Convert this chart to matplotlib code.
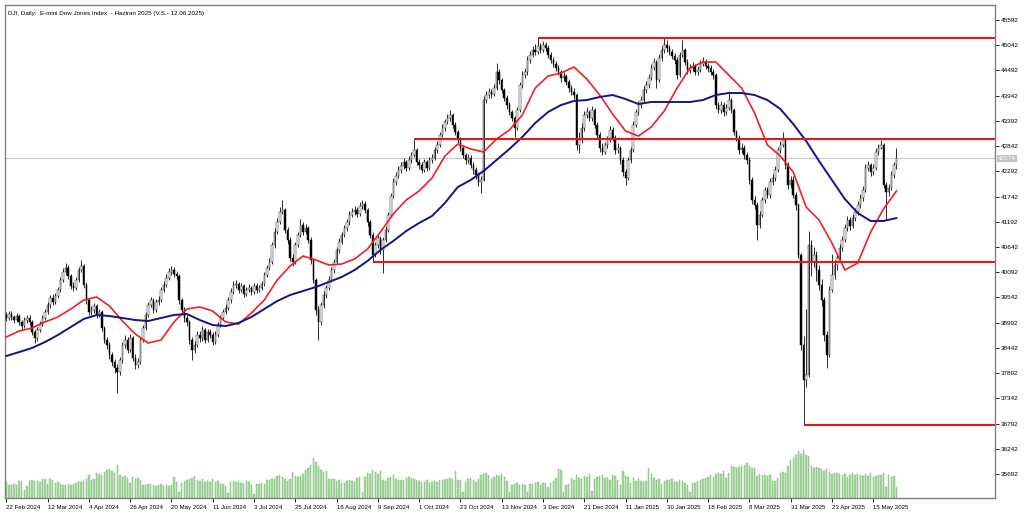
import numpy as np
import matplotlib
matplotlib.use("Agg")
import matplotlib.pyplot as plt
import matplotlib.transforms as mtransforms

plt.rcParams['font.family'] = ['Liberation Sans', 'DejaVu Sans']

# ---------------------------------------------------------------
# data (daily bars, price units)
# ---------------------------------------------------------------
title = "DJI, Daily:  E-mini Dow Jones Index  - Haziran 2025 (V.S.- 12.06.2025)"

date_labels = ["22 Feb 2024", "12 Mar 2024", "4 Apr 2024", "26 Apr 2024", "20 May 2024",
               "11 Jun 2024", "3 Jul 2024", "25 Jul 2024", "16 Aug 2024", "9 Sep 2024",
               "1 Oct 2024", "23 Oct 2024", "13 Nov 2024", "3 Dec 2024", "21 Dec 2024",
               "11 Jan 2025", "30 Jan 2025", "18 Feb 2025", "8 Mar 2025", "31 Mar 2025",
               "23 Apr 2025", "15 May 2025"]

first_open = 39150

closes = [
    39094, 39181, 39115, 39050, 39137, 39006, 38919, 39050, 39094, 39006,
    38788, 38658, 38832, 38963, 39094, 39225, 39377, 39530, 39443, 39573,
    39704, 39922, 40097, 40184, 40010, 39791, 39748, 39922, 40140, 40228,
    39813, 39486, 39225, 39268, 39355, 39181, 39225, 38876, 38614, 38505,
    38287, 38134, 38003, 37916, 38178, 38505, 38614, 38396, 38658, 38221,
    38069, 38134, 38614, 38876, 39159, 39377, 39486, 39268, 39443, 39486,
    39704, 39813, 39966, 40097, 40140, 40053, 40010, 39486, 39268, 39094,
    39006, 38614, 38396, 38505, 38723, 38658, 38832, 38614, 38788, 38723,
    38570, 38723, 38941, 39094, 39225, 39312, 39486, 39661, 39813, 39835,
    39704, 39791, 39617, 39704, 39748, 39661, 39791, 39704, 39748, 39835,
    40031, 40184, 40315, 40686, 40969, 41187, 41405, 41449, 41013, 40795,
    40402, 40315, 40686, 40904, 41122, 40969, 41056, 40795, 40358, 39922,
    39268, 39006, 39377, 39595, 39748, 39922, 40140, 40315, 40576, 40751,
    40904, 41056, 41187, 41340, 41405, 41449, 41362, 41536, 41580, 41449,
    41187, 40904, 40467, 40686, 40838, 40576, 40795, 41013, 41340, 41754,
    42059, 42190, 42321, 42408, 42495, 42365, 42539, 42648, 42757, 42495,
    42430, 42321, 42495, 42365, 42539, 42583, 42757, 42866, 43084, 43237,
    43368, 43455, 43520, 43302, 43150, 42975, 42801, 42648, 42539, 42583,
    42430, 42321, 42212, 42059, 42103, 43847, 43956, 44022, 43978, 44109,
    44458, 44284, 44065, 43891, 43738, 43586, 43455, 43237, 43629, 44174,
    44393, 44458, 44720, 44829, 44938, 44894, 45025, 44938, 45047, 44981,
    44829, 44720, 44632, 44545, 44458, 44327, 44371, 44240, 44109, 44022,
    43956, 42866, 42975, 43237, 43520, 43586, 43455, 43629, 43302, 43084,
    42801, 42713, 42866, 42975, 43193, 43019, 42757, 42801, 42539, 42277,
    42147, 42539, 42757, 43302, 43586, 43738, 43847, 44065, 44174, 44327,
    44545, 44676, 44284, 44763, 44938, 45047, 44981, 44894, 44807, 44720,
    44393, 44829, 44938, 44676, 44502, 44545, 44589, 44458, 44502, 44632,
    44676, 44589, 44545, 44458, 44393, 43738, 43629, 43738, 43586, 43673,
    43847, 43629, 43150, 43019, 42757, 42801, 42648, 42539, 42103, 41667,
    41558, 41122, 41340, 41667, 41885, 41776, 42059, 42147, 42321, 42757,
    42866, 42975, 42430, 41994, 42103, 41776, 41558, 40467, 38505, 37742,
    37851, 40686, 40315, 40467, 40140, 39813, 39486, 38723, 38287, 39704,
    40031, 40249, 40402, 40620, 40795, 41056, 41231, 41100, 41274, 41405,
    41558, 41710, 41885, 42365, 42430, 42277, 42365, 42713, 42801, 42866,
    41994, 41841, 41928, 42212, 42430, 42574]

highs = [
    39230, 39250, 39240, 39170, 39200, 39180, 39060, 39110, 39160, 39150,
    39060, 38840, 38900, 39030, 39150, 39290, 39440, 39600, 39610, 39640,
    39780, 39990, 40180, 40300, 40250, 40060, 39880, 39990, 40210, 40360,
    40280, 39870, 39540, 39360, 39430, 39400, 39300, 39270, 38920, 38680,
    38560, 38360, 38200, 38100, 38250, 38580, 38720, 38680, 38740, 38700,
    38300, 38230, 38680, 38950, 39230, 39450, 39560, 39530, 39510, 39580,
    39780, 39890, 40050, 40180, 40230, 40200, 40120, 40060, 39540, 39330,
    39150, 39050, 38680, 38600, 38800, 38800, 38910, 38880, 38860, 38850,
    38790, 38800, 39010, 39170, 39300, 39400, 39560, 39740, 39890, 39920,
    39880, 39860, 39840, 39780, 39830, 39800, 39860, 39850, 39820, 39900,
    40100, 40260, 40400, 40760, 41050, 41280, 41520, 41670, 41500, 41080,
    40860, 40480, 40760, 40980, 41250, 41180, 41140, 41100, 40850, 40400,
    39960, 39350, 39450, 39680, 39820, 40000, 40210, 40390, 40640, 40830,
    40980, 41130, 41260, 41420, 41490, 41540, 41520, 41620, 41670, 41640,
    41500, 41240, 40960, 40760, 40910, 40880, 40860, 41090, 41410, 41830,
    42140, 42280, 42400, 42490, 42580, 42540, 42620, 42720, 43000, 42800,
    42560, 42500, 42560, 42540, 42610, 42660, 42830, 42950, 43150, 43320,
    43440, 43540, 43630, 43570, 43360, 43200, 43040, 42860, 42700, 42680,
    42640, 42500, 42380, 42280, 42190, 43930, 44040, 44110, 44090, 44200,
    44655, 44520, 44330, 44120, 43950, 43800, 43640, 43500, 43700, 44250,
    44470, 44540, 44800, 44920, 45030, 45060, 45190, 45100, 45130, 45120,
    45040, 44890, 44790, 44700, 44610, 44500, 44450, 44420, 44300, 44180,
    44100, 44010, 43150, 43350, 43600, 43700, 43640, 43710, 43680, 43360,
    43140, 42900, 42940, 43060, 43290, 43250, 43080, 42900, 42850, 42600,
    42350, 42600, 42830, 43380, 43660, 43820, 43930, 44150, 44260, 44420,
    44640, 44760, 44720, 44840, 45020, 45199, 45156, 45050, 44960, 44870,
    44780, 44900, 45156, 44990, 44740, 44640, 44680, 44640, 44590, 44720,
    44780, 44740, 44660, 44620, 44520, 44440, 43800, 43820, 43800, 43760,
    44050, 43900, 43680, 43200, 43080, 42900, 42860, 42720, 42600, 42160,
    41760, 41620, 41420, 41740, 41960, 41950, 42140, 42240, 42400, 42830,
    42960, 43150, 43020, 42500, 42200, 42180, 41840, 41600, 40520, 38700,
    39300, 41000, 40800, 40650, 40550, 40250, 39950, 39550, 38800, 39800,
    40500, 40350, 40480, 40700, 40880, 41140, 41320, 41300, 41360, 41490,
    41640, 41790, 41970, 42450, 42520, 42480, 42450, 42800, 42890, 42975,
    42900, 42060, 42020, 42300, 42500, 42801]

lows = [
    39020, 39040, 39060, 38980, 39000, 38950, 38830, 38880, 38990, 38940,
    38720, 38550, 38600, 38790, 38920, 39040, 39180, 39320, 39380, 39400,
    39520, 39660, 39880, 40030, 39950, 39730, 39680, 39700, 39880, 40100,
    39750, 39400, 39150, 39160, 39210, 39100, 39120, 38800, 38540, 38420,
    38200, 38050, 37900, 37460, 37850, 38120, 38450, 38330, 38350, 38150,
    37980, 38000, 38100, 38560, 38830, 39110, 39330, 39200, 39220, 39380,
    39440, 39650, 39760, 39930, 40030, 39980, 39920, 39400, 39190, 39010,
    38920, 38530, 38180, 38320, 38460, 38580, 38600, 38540, 38560, 38650,
    38500, 38520, 38680, 38890, 39040, 39180, 39270, 39430, 39620, 39740,
    39640, 39650, 39550, 39570, 39650, 39590, 39620, 39640, 39660, 39700,
    39790, 39980, 40130, 40280, 40620, 40920, 41140, 41360, 40950, 40700,
    40330, 40230, 40270, 40640, 40850, 40900, 40920, 40720, 40280, 39850,
    39150, 38614, 38950, 39320, 39540, 39700, 39880, 40080, 40270, 40520,
    40700, 40850, 41000, 41130, 41290, 41340, 41290, 41320, 41480, 41380,
    41110, 40830, 40315, 40420, 40620, 40500, 40080, 40750, 40970, 41300,
    41700, 42000, 42140, 42260, 42350, 42300, 42320, 42480, 42600, 42420,
    42350, 42250, 42270, 42290, 42320, 42480, 42530, 42700, 42820, 43030,
    43180, 43320, 43400, 43230, 43080, 42900, 42730, 42580, 42450, 42480,
    42360, 42240, 42130, 41980, 41820, 42080, 43780, 43900, 43900, 43930,
    44060, 44200, 43990, 43820, 43660, 43510, 43380, 43040, 43200, 43580,
    44120, 44330, 44400, 44660, 44780, 44830, 44850, 44880, 44890, 44910,
    44760, 44650, 44560, 44470, 44390, 44250, 44270, 44170, 44030, 43950,
    43880, 42750, 42700, 42920, 43180, 43450, 43380, 43400, 43230, 43000,
    42720, 42640, 42660, 42800, 42930, 42950, 42680, 42700, 42460, 42200,
    41994, 42100, 42480, 42720, 43250, 43520, 43680, 43800, 44000, 44120,
    44280, 44500, 44110, 44240, 44700, 44880, 44900, 44820, 44740, 44640,
    44300, 44350, 44780, 44600, 44420, 44440, 44480, 44390, 44400, 44450,
    44580, 44520, 44460, 44390, 44300, 43650, 43560, 43560, 43500, 43520,
    43620, 43560, 43080, 42950, 42680, 42700, 42570, 42460, 42020, 41580,
    41470, 40795, 41050, 41290, 41600, 41700, 41720, 42000, 42080, 42280,
    42700, 42820, 42350, 41900, 41920, 41700, 41450, 40400, 38400, 36760,
    37600, 37800, 40000, 40200, 39900, 39700, 39350, 38600, 38000, 38250,
    39650, 39950, 40150, 40350, 40560, 40750, 41000, 41020, 41050, 41200,
    41350, 41500, 41650, 41850, 42300, 42200, 42220, 42330, 42650, 42780,
    41920, 41231, 41760, 41880, 42150, 42350]

volumes = [
    165, 135, 135, 140, 135, 170, 170, 80, 120, 175,
    180, 175, 170, 165, 190, 195, 140, 190, 180, 150,
    165, 140, 135, 130, 140, 135, 145, 150, 170, 165,
    175, 195, 230, 185, 195, 250, 240, 230, 260, 280,
    290, 270, 250, 330, 230, 210, 220, 200, 150, 210,
    190, 200, 180, 130, 135, 140, 140, 130, 125, 135,
    140, 125, 130, 120, 130, 210, 160, 60, 155, 170,
    180, 190, 205, 220, 180, 175, 190, 160, 175, 160,
    190, 165, 175, 140, 140, 120, 50, 165, 170, 165,
    160, 150, 155, 170, 160, 130, 40, 145, 145, 150,
    140, 180, 180, 190, 195, 220, 230, 210, 190, 175,
    195, 260, 225, 210, 220, 240, 280, 300, 330, 400,
    360, 320, 280, 260, 270, 195, 190, 190, 175, 180,
    150, 155, 175, 180, 170, 160, 200, 210, 60, 210,
    250, 240, 280, 260, 245, 270, 180, 170, 200, 210,
    230, 190, 180, 180, 185, 200, 215, 200, 195, 180,
    175, 165, 160, 180, 150, 160, 170, 165, 180, 185,
    190, 190, 200, 195, 270, 185, 180, 60, 160, 190,
    200, 185, 165, 190, 230, 245, 250, 230, 195, 210,
    230, 220, 240, 215, 170, 60, 130, 140, 150, 130,
    140, 130, 60, 140, 145, 150, 160, 130, 155, 150,
    110, 155, 175, 200, 290, 280, 60, 130, 145, 200,
    180, 230, 200, 190, 220, 215, 240, 70, 190, 210,
    220, 230, 200, 210, 180, 230, 220, 180, 130, 270,
    220, 210, 150, 200, 170, 190, 175, 160, 170, 300,
    240, 200, 180, 190, 140, 175, 180, 185, 190, 160,
    165, 180, 170, 150, 130, 60, 150, 150, 170, 180,
    190, 200, 210, 230, 215, 240, 250, 240, 270, 200,
    250, 320, 310, 300, 310, 320, 330, 350, 320, 300,
    300, 220, 240, 230, 230, 220, 230, 170, 170, 200,
    250, 260, 250, 320, 380, 400, 430, 470, 440, 480,
    430, 420, 320, 300, 310, 300, 290, 270, 290, 260,
    240, 250, 255, 240, 230, 240, 210, 230, 250, 230,
    240, 230, 220, 240, 225, 250, 210, 220, 230, 235,
    250, 110, 230, 210, 220, 110]

# moving averages, read every 5th bar
ma_step = 5
ma_red = [
    38679, 38810, 38876, 39007, 39116, 39290, 39486, 39552, 39355, 39028,
    38745, 38549, 38614, 39007, 39290, 39334, 39246, 39007, 38963, 39203,
    39486, 39922, 40228, 40446, 40358, 40249, 40271, 40380, 40598, 40969,
    41362, 41667, 41863, 42147, 42626, 42888, 42779, 42713, 42997, 43193,
    43520, 44109, 44371, 44436, 44567, 44305, 43956, 43542, 43171, 43062,
    43259, 43608, 44109, 44545, 44676, 44676, 44393, 44109, 43564, 42866,
    42626, 42277, 41514, 41231, 40729, 40140, 40293, 40969, 41471, 41863]
ma_blue = [
    38265, 38352, 38440, 38570, 38723, 38897, 39072, 39159, 39137, 39094,
    39050, 39028, 39094, 39159, 39181, 39050, 38941, 38919, 38985, 39116,
    39290, 39464, 39595, 39683, 39770, 39879, 39988, 40140, 40337, 40577,
    40773, 40991, 41165, 41318, 41601, 41950, 42103, 42299, 42539, 42779,
    43041, 43346, 43586, 43738, 43826, 43847, 43913, 43956, 43869, 43760,
    43804, 43804, 43804, 43804, 43847, 43956, 44000, 44000, 43956, 43847,
    43651, 43324, 42953, 42517, 42103, 41689, 41383, 41209, 41209, 41274]

# support / resistance levels and the bar each one is anchored to
levels = [45190, 43000, 40315, 36760]
level_bars = [206, 158, 142, 309]

last_price = 42574
y_ticks = [35692 + 550 * k for k in range(19)]

# ---------------------------------------------------------------
closes = np.array(closes, dtype=float)
highs = np.array(highs, dtype=float)
lows = np.array(lows, dtype=float)
opens = np.concatenate(([first_open], closes[:-1]))
n = len(closes)
x = np.arange(n)

fig = plt.figure(figsize=(10.24, 5.16), dpi=100)
ax = fig.add_axes([5 / 1024, 18 / 516, 990 / 1024, 493 / 516])
vax = ax.twinx()
ax.set_zorder(vax.get_zorder() + 1)
ax.patch.set_visible(False)

x_right = 383.2
ax.set_xlim(-0.5, x_right)
ax.set_ylim(35169, 45919)

# volumes at the bottom of the window
vax.bar(x, volumes, width=0.55, color='#a8d9a1', edgecolor='#79bb72', linewidth=0.3)
vax.set_ylim(0, 4930)
vax.set_yticks([])
for s in vax.spines.values():
    s.set_visible(False)

# current price line
ax.axhline(last_price, color='#c9c9c9', lw=0.8, zorder=1)

# candles
ax.vlines(x, lows, highs, color='#2a2a2a', lw=0.7, zorder=3)
body = np.maximum(np.abs(closes - opens), 15)
up = closes >= opens
ax.bar(x[up], body[up], bottom=opens[up], width=0.6, color='white',
       edgecolor='#222222', linewidth=0.35, zorder=4)
ax.bar(x[~up], body[~up], bottom=closes[~up], width=0.6, color='black',
       edgecolor='black', linewidth=0.35, zorder=4)

# moving averages
ma_x = np.arange(0, n, ma_step)
ax.plot(ma_x, ma_red, color='#ee2027', lw=1.2, zorder=5)
ax.plot(ma_x, ma_blue, color='#141489', lw=1.4, zorder=5)

# levels
ax.hlines(levels, level_bars, x_right, color='#e3191c', lw=1.5, zorder=6)

# axes styling
for s in ax.spines.values():
    s.set_color('#808080')
    s.set_linewidth(1.0)
ax.yaxis.tick_right()
ax.set_yticks(y_ticks)
ax.set_yticklabels([str(v) for v in y_ticks])
ax.tick_params(axis='y', direction='out', length=3, width=0.6, pad=1.5,
               labelsize=4.6, colors='black')
ax.set_xticks(np.arange(len(date_labels)) * 16)
ax.set_xticklabels(date_labels, ha='left')
ax.tick_params(axis='x', direction='out', length=3, width=0.6, pad=2,
               labelsize=4.4, colors='black')

trans = mtransforms.blended_transform_factory(ax.transAxes, ax.transData)
ax.text(1.003, last_price, str(last_price), transform=trans, fontsize=4.6,
        color='white', va='center', ha='left',
        bbox=dict(facecolor='#c0c0c0', edgecolor='none', pad=0.8), zorder=7)

ax.text(0.003, 0.988, title, transform=ax.transAxes, fontsize=4.5,
        va='top', ha='left', color='black')

fig.savefig('out.png', dpi=100)
